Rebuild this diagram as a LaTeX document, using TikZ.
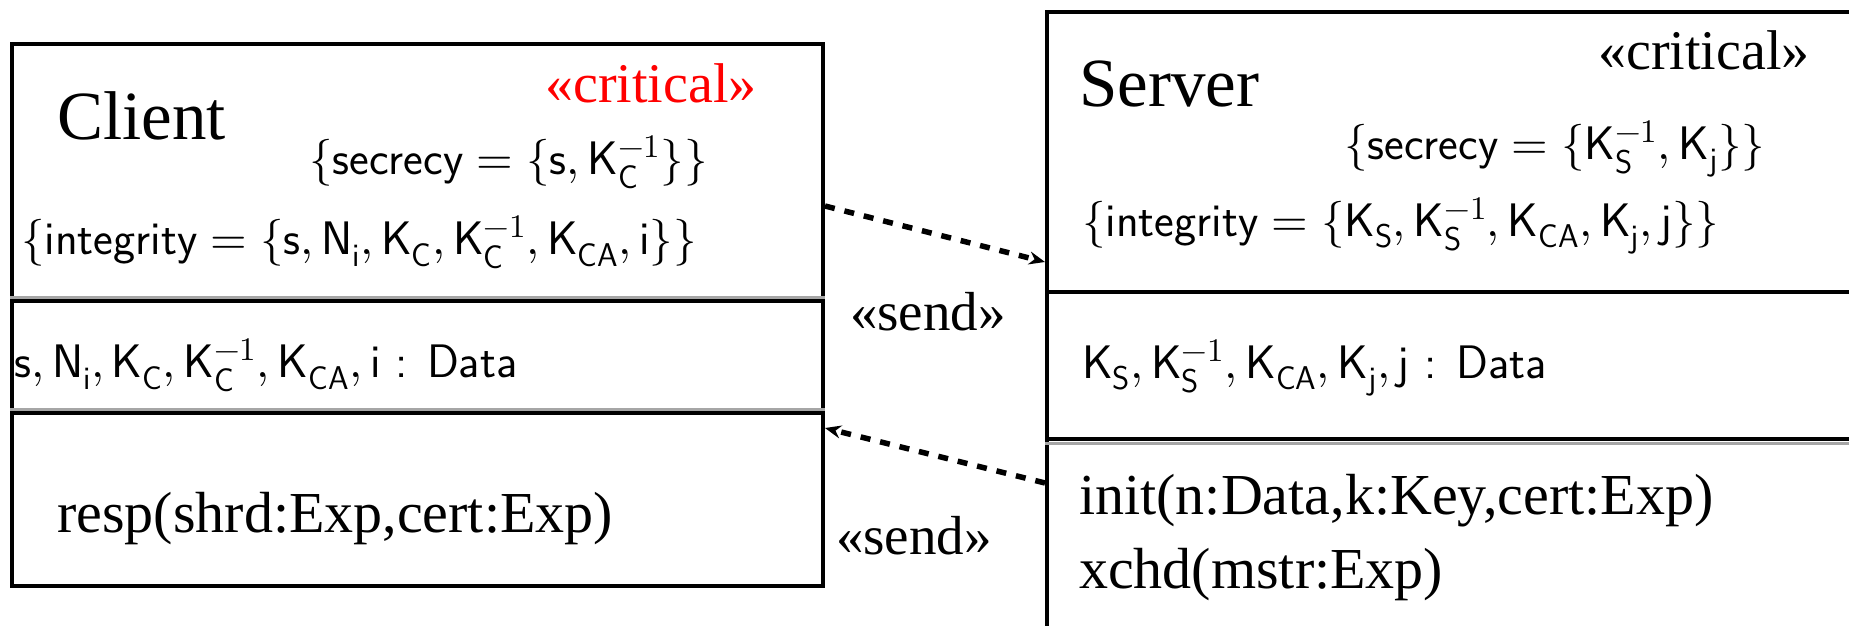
\documentclass[tikz,border=0pt]{standalone}
\usepackage{fontspec}
\usepackage{unicode-math}
\setmainfont{Liberation Serif}
\setmathfont{Latin Modern Math}
\usetikzlibrary{arrows.meta}
% sans-serif keys and values, used in math mode
\newcommand\keyK[1]{\mathsf{K}_{\mathsf{#1}}}
\newcommand\keyKi[1]{\mathsf{K}_{\mathsf{#1}}^{-1}}
\newcommand\nonce[1]{\mathsf{N}_{\mathsf{#1}}}
\newcommand\sv[1]{\mathsf{#1}}
\begin{document}
\begin{tikzpicture}[x=1pt,y=-1pt,
  cls/.style={draw, line width=4pt, inner sep=0pt},
  clsname/.style={font=\fontsize{69}{80}\selectfont, anchor=base west, inner sep=0pt},
  stereo/.style={font=\fontsize{56}{64}\selectfont, anchor=base west, inner sep=0pt},
  constr/.style={font=\sffamily\fontsize{47}{54}\selectfont, anchor=west, inner sep=0pt},
  oper/.style={font=\fontsize{58}{66}\selectfont, anchor=west, inner sep=0pt},
  dep/.style={line width=5.5pt, dash pattern=on 10pt off 10pt, -{Stealth[length=16pt,width=13pt]}},
  lbl/.style={font=\fontsize{55}{62}\selectfont, anchor=center, inner sep=0pt},
  sepgray/.style={draw=black!35, line width=3pt},
  sepblack/.style={draw=black, line width=3.5pt}]
\useasboundingbox (0,0) rectangle (1849,625);
\clip (0,0) rectangle (1849,625);

% class boxes
\node[cls, minimum width=811pt, minimum height=542pt] (client) at (417.5,315) {};
\node[cls, minimum width=853pt, minimum height=688pt] (server) at (1473.5,356) {};

% compartment separators (client)
\draw[sepgray]  (client.west |- 0,297) -- (client.east |- 0,297);
\draw[sepblack] (client.west |- 0,301) -- (client.east |- 0,301);
\draw[sepgray]  (client.west |- 0,409) -- (client.east |- 0,409);
\draw[sepblack] (client.west |- 0,413) -- (client.east |- 0,413);
% compartment separators (server)
\draw[sepblack] (server.west |- 0,292) -- (server.east |- 0,292);
\draw[sepgray]  (server.west |- 0,443) -- (server.east |- 0,443);
\draw[sepblack] (server.west |- 0,439) -- (server.east |- 0,439);

% client contents
\node[clsname] (cname) at (57,139) {Client};
\node[stereo, text=red] (ccrit) at (545,102) {«critical»};
\node[constr] (csec) at (309,162) {$\{\sv{secrecy} = \{\sv{s}, \keyKi{C}\}\}$};
\node[constr] (cint) at (21,242) {$\{\sv{integrity} = \{\sv{s}, \nonce{i}, \keyK{C}, \keyKi{C}, \keyK{CA}, \sv{i}\}\}$};
\node[constr] (catt) at (14,365) {$\sv{s}, \nonce{i}, \keyK{C}, \keyKi{C}, \keyK{CA}, \sv{i}$ : Data};
\node[oper] (cop) at (57,519) {resp(shrd:Exp,cert:Exp)};

% server contents
\node[clsname] (sname) at (1079,106) {Server};
\node[stereo] (scrit) at (1598,69) {«critical»};
\node[constr] (ssec) at (1344,149) {$\{\sv{secrecy} = \{\keyKi{S}, \keyK{j}\}\}$};
\node[constr] (sint) at (1082,226) {$\{\sv{integrity} = \{\keyK{S}, \keyKi{S}, \keyK{CA}, \keyK{j}, \sv{j}\}\}$};
\node[constr] (satt) at (1082,368) {$\keyK{S}, \keyKi{S}, \keyK{CA}, \keyK{j}, \sv{j}$ : Data};
\node[oper] (sop1) at (1079,501) {init(n:Data,k:Key,cert:Exp)};
\node[oper] (sop2) at (1079,575) {xchd(mstr:Exp)};

% send dependencies
\coordinate (ctop) at (client.east |- 0,206);
\coordinate (stop) at (server.west |- 0,262);
\coordinate (cbot) at (client.east |- 0,428);
\coordinate (sbot) at (server.west |- 0,483);
\draw[dep] (ctop) -- (stop);
\draw[dep] (sbot) -- (cbot);
\node[lbl] (send1) at (928,312) {«send»};
\node[lbl] (send2) at (914,536) {«send»};
\end{tikzpicture}
\end{document}
